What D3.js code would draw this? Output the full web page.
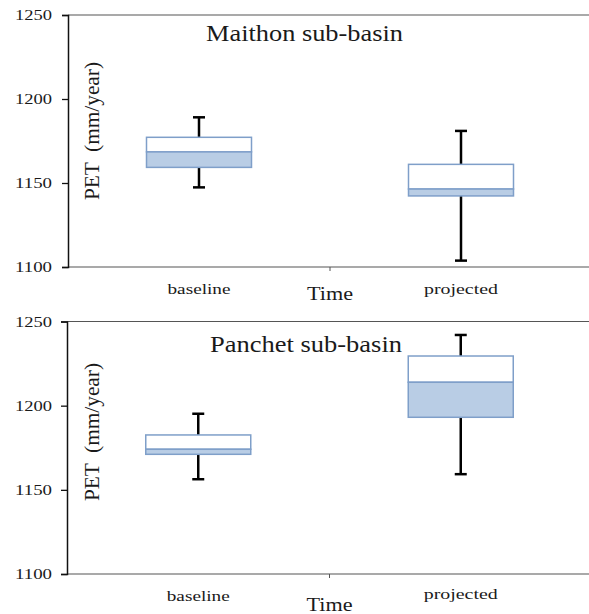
<!DOCTYPE html>
<html>
<head>
<meta charset="utf-8">
<script src="https://cdn.jsdelivr.net/npm/d3@7"></script>
<style>
  body { margin: 0; background: #fff; }
  svg { display: block; }
  text { font-family: "Liberation Serif", Tinos, "Times New Roman", Times, serif; fill: #1a1a1a; }
</style>
</head>
<body>
<svg id="chart"></svg>
<script>
const width = 589;
const height = 614;

// categories and box stats [whisker low, q1, median, q3, whisker high]
const categories = ["baseline", "projected"];
const maithonStats = [
  [1147.4, 1159.3, 1168.5, 1177.2, 1189.1],
  [1103.8, 1142.3, 1146.4, 1161.1, 1181.0]
];
const panchetStats = [
  [1156.3, 1171.1, 1174.1, 1182.6, 1195.2],
  [1159.3, 1193.1, 1213.9, 1229.5, 1242.0]
];
const yTicks = [1100, 1150, 1200, 1250];
const titles = ["Maithon sub-basin", "Panchet sub-basin"];

const svg = d3.select("#chart")
    .attr("width", width)
    .attr("height", height);

// helper for stretched text like the scanned original
function stretch(sel, len) {
  sel.attr("textLength", len).attr("lengthAdjust", "spacingAndGlyphs");
}

function drawPanel(opts) {
  const g = svg.append("g");
  const x = d3.scaleBand()
      .domain(categories)
      .range([opts.left, 592]);
  const y = d3.scaleLinear()
      .domain([1100, 1250])
      .range([opts.bottom, opts.top]);

  // top border
  g.append("line")
      .attr("x1", opts.left).attr("x2", 592)
      .attr("y1", y(1250)).attr("y2", y(1250))
      .attr("stroke", "#555").attr("stroke-width", 1.2);

  // bottom axis
  g.append("line")
      .attr("x1", opts.left).attr("x2", 592)
      .attr("y1", y(1100)).attr("y2", y(1100))
      .attr("stroke", "#555").attr("stroke-width", 1.2);
  // separator tick between categories
  g.append("line")
      .attr("x1", x("projected")).attr("x2", x("projected"))
      .attr("y1", y(1100)).attr("y2", y(1100) + 4)
      .attr("stroke", "#555").attr("stroke-width", 1);

  // left axis
  const yAxis = d3.axisLeft(y).tickValues(yTicks).tickSize(6).tickFormat(d3.format("d"));
  const ax = g.append("g")
      .attr("transform", `translate(${opts.left},0)`)
      .call(yAxis);
  ax.attr("font-family", null);
  ax.select(".domain").attr("stroke", "#111").attr("stroke-width", 1.5);
  ax.selectAll(".tick line").attr("stroke", "#111").attr("stroke-width", 1.3);
  ax.selectAll(".tick text")
      .attr("x", -opts.left + 15)
      .attr("text-anchor", "start")
      .attr("font-size", 15)
      .attr("fill", "#1a1a1a")
      .call(stretch, 37);

  // boxes
  const bw = 105;
  const boxes = g.selectAll("g.box")
    .data(opts.stats)
    .join("g")
      .attr("class", "box")
      .attr("transform", (d, i) => `translate(${x(categories[i]) + x.bandwidth() / 2},0)`);

  // whiskers
  boxes.append("line")
      .attr("y1", d => y(d[0])).attr("y2", d => y(d[4]))
      .attr("stroke", "#000").attr("stroke-width", 2.5);
  boxes.append("line")
      .attr("x1", -6).attr("x2", 6)
      .attr("y1", d => y(d[0])).attr("y2", d => y(d[0]))
      .attr("stroke", "#000").attr("stroke-width", 2.5);
  boxes.append("line")
      .attr("x1", -6).attr("x2", 6)
      .attr("y1", d => y(d[4])).attr("y2", d => y(d[4]))
      .attr("stroke", "#000").attr("stroke-width", 2.5);

  // upper half (median to q3) white, lower half (q1 to median) blue
  boxes.append("rect")
      .attr("x", -bw / 2).attr("width", bw)
      .attr("y", d => y(d[3]))
      .attr("height", d => y(d[2]) - y(d[3]))
      .attr("fill", "#fff")
      .attr("stroke", "#7f9fc9").attr("stroke-width", 1.5);
  boxes.append("rect")
      .attr("x", -bw / 2).attr("width", bw)
      .attr("y", d => y(d[2]))
      .attr("height", d => y(d[1]) - y(d[2]))
      .attr("fill", "#b9cde5")
      .attr("stroke", "#7f9fc9").attr("stroke-width", 1.5);

  // category labels
  g.selectAll("text.cat")
    .data(categories)
    .join("text")
      .attr("class", "cat")
      .attr("x", d => x(d) + x.bandwidth() / 2)
      .attr("y", (d, i) => opts.catY[i])
      .attr("text-anchor", "middle")
      .attr("font-size", 15)
      .text(d => d)
      .each(function(d, i) { d3.select(this).call(stretch, opts.catW[i]); });

  // x title
  g.append("text")
      .attr("x", x("projected"))
      .attr("y", opts.timeY)
      .attr("text-anchor", "middle")
      .attr("font-size", 19)
      .text("Time")
      .call(stretch, 46);

  // panel title
  g.append("text")
      .attr("x", opts.titleX)
      .attr("y", opts.titleY)
      .attr("font-size", 23)
      .text(opts.title)
      .call(stretch, opts.titleW);

  // y label
  g.append("text")
      .attr("transform", `translate(99,${opts.labelY}) rotate(-90)`)
      .attr("text-anchor", "middle")
      .attr("font-size", 20)
      .attr("xml:space", "preserve")
      .text("PET  (mm/year)")
      .call(stretch, 138);
}

drawPanel({
  top: 15, bottom: 267, left: 68, stats: maithonStats,
  title: titles[0], titleX: 206, titleY: 41, titleW: 197,
  catY: [294, 294], catW: [63, 74], timeY: 300, labelY: 131
});

drawPanel({
  top: 321.5, bottom: 574, left: 67, stats: panchetStats,
  title: titles[1], titleX: 210, titleY: 352, titleW: 192,
  catY: [601, 599], catW: [63, 74], timeY: 611, labelY: 432
});
</script>
</body>
</html>
